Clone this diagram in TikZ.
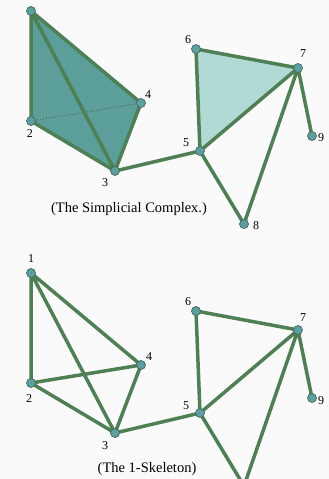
\documentclass[tikz,border=0pt]{standalone}
\usepackage{fontspec}
\setmainfont{Liberation Serif}
\definecolor{edgec}{HTML}{4E7F55}
\definecolor{darkfill}{HTML}{5B9E9A}
\definecolor{lightfill}{HTML}{B2DAD5}
\definecolor{vfill}{HTML}{5D9E9E}
\definecolor{vline}{HTML}{46695E}
\definecolor{bg}{HTML}{FAFAFA}
\begin{document}
\begin{tikzpicture}[x=1pt,y=-1pt,
  vert/.style={circle,fill=vfill,draw=vline,line width=0.7pt,inner sep=0pt,minimum size=9pt},
  edge/.style={draw=edgec,line width=3.5pt},
  lab/.style={font=\fontsize{12}{13}\selectfont,inner sep=0pt},
  captext/.style={font=\fontsize{14.5}{16}\selectfont,inner sep=0pt}]
\fill[bg] (0,0) rectangle (329,479);
\useasboundingbox (0,0) rectangle (329,479);
\clip (0,0) rectangle (329,479);
% ---------- top: simplicial complex ----------
\coordinate (p1) at (31,11);
\coordinate (p2) at (31,121);
\coordinate (p3) at (115,171);
\coordinate (p4) at (141,103);
\coordinate (p5) at (200,151);
\coordinate (p6) at (196,49);
\coordinate (p7) at (298,68);
\coordinate (p8) at (244,224);
\coordinate (p9) at (312,136);
\fill[darkfill] (p1) -- (p4) -- (p3) -- (p2) -- cycle;
\fill[lightfill] (p5) -- (p6) -- (p7) -- cycle;
\draw[vline,line width=1pt,dotted] (p2) -- (p4);
\path[edge,line join=round] (p1) -- (p2) (p1) -- (p4) (p1) -- (p3) (p2) -- (p3) (p3) -- (p4)
  (p3) -- (p5) (p5) -- (p6) (p6) -- (p7) (p5) -- (p7) (p7) -- (p9) (p5) -- (p8) (p7) -- (p8);
\foreach \i in {1,...,9} \node[vert] (a\i) at (p\i) {};
\node[lab] (la2) at (30,134) {2};
\node[lab] (la3) at (105,183) {3};
\node[lab] (la4) at (148,95) {4};
\node[lab] (la5) at (186,143) {5};
\node[lab] (la6) at (188,40) {6};
\node[lab] (la7) at (303,54) {7};
\node[lab] (la8) at (256,226) {8};
\node[lab] (la9) at (321,138) {9};
\node[captext] (cap1) at (129,209) {(The Simplicial Complex.)};
% ---------- bottom: 1-skeleton ----------
\coordinate (q1) at (31,273);
\coordinate (q2) at (31,383);
\coordinate (q3) at (115,433);
\coordinate (q4) at (141,365);
\coordinate (q5) at (200,413);
\coordinate (q6) at (196,311);
\coordinate (q7) at (298,330);
\coordinate (q8) at (244,486);
\coordinate (q9) at (312,398);
\path[edge] (q1) -- (q2) (q1) -- (q4) (q1) -- (q3) (q2) -- (q3) (q3) -- (q4) (q2) -- (q4)
  (q3) -- (q5) (q5) -- (q6) (q6) -- (q7) (q5) -- (q7) (q7) -- (q9) (q5) -- (q8) (q7) -- (q8);
\foreach \i in {1,...,9} \node[vert] (b\i) at (q\i) {};
\node[lab] (lb1) at (31,259) {1};
\node[lab] (lb2) at (29,399) {2};
\node[lab] (lb3) at (105,446) {3};
\node[lab] (lb4) at (149,357) {4};
\node[lab] (lb5) at (186,406) {5};
\node[lab] (lb6) at (188,302) {6};
\node[lab] (lb7) at (303,318) {7};
\node[lab] (lb9) at (321,401) {9};
\node[captext] (cap2) at (147,469) {(The 1-Skeleton)};
\end{tikzpicture}
\end{document}
